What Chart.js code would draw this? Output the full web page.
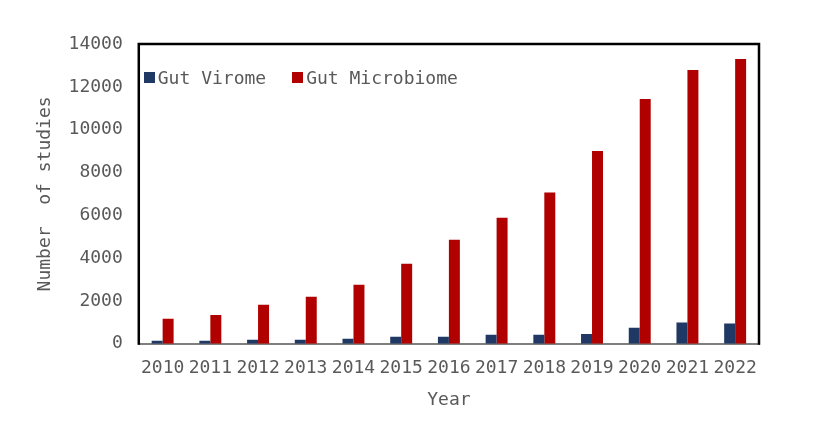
<!DOCTYPE html>
<html>
<head>
<meta charset="utf-8">
<script src="https://cdn.jsdelivr.net/npm/chart.js@4"></script>
<style>
  body { margin: 0; background: #fff; }
  #wrap { position: relative; width: 819px; height: 434px; }
  #chart { display: block; }
  #legend {
    position: absolute; display: flex; gap: 26px;
    font-family: 'DejaVu Sans Mono', 'Liberation Mono', monospace;
    font-size: 18px; color: #595959; white-space: nowrap;
  }
  #legend span.item { display: flex; align-items: center; }
  #legend span.box { display: inline-block; width: 11px; height: 11px; margin-right: 3px; }
</style>
</head>
<body>
<div id="wrap">
  <canvas id="chart" width="819" height="434"></canvas>
  <div id="legend"></div>
</div>
<script>
const years = ['2010', '2011', '2012', '2013', '2014', '2015', '2016', '2017', '2018', '2019', '2020', '2021', '2022'];
const gutVirome = [140, 140, 190, 190, 230, 330, 330, 420, 420, 460, 750, 1000, 950];
const gutMicrobiome = [1170, 1350, 1820, 2200, 2760, 3740, 4860, 5890, 7060, 9000, 11430, 12790, 13300];
const yTicks = [0, 2000, 4000, 6000, 8000, 10000, 12000, 14000];

const textColor = '#595959';
const monoFont = "'DejaVu Sans Mono', 'Liberation Mono', monospace";

// black frame on top / left / right, grey baseline
const frame = {
    id: 'frame',
    afterDraw(chart) {
        const a = chart.chartArea;
        const ctx = chart.ctx;
        ctx.save();
        ctx.strokeStyle = '#000';
        ctx.lineWidth = 2.5;
        ctx.beginPath();
        ctx.moveTo(a.left, a.bottom + 1);
        ctx.lineTo(a.left, a.top);
        ctx.lineTo(a.right, a.top);
        ctx.lineTo(a.right, a.bottom + 1);
        ctx.stroke();
        ctx.restore();
    }
};

// legend sits inside the plot, top-left
const htmlLegend = {
    id: 'htmlLegend',
    afterUpdate(chart) {
        const el = document.getElementById('legend');
        el.innerHTML = '';
        chart.data.datasets.forEach(ds => {
            const item = document.createElement('span');
            item.className = 'item';
            const box = document.createElement('span');
            box.className = 'box';
            box.style.background = ds.backgroundColor;
            item.appendChild(box);
            item.appendChild(document.createTextNode(ds.label));
            el.appendChild(item);
        });
        el.style.left = (chart.chartArea.left + 5) + 'px';
        el.style.top = (chart.chartArea.top + 23) + 'px';
    }
};

new Chart(document.getElementById('chart'), {
    type: 'bar',
    data: {
        labels: years,
        datasets: [{
            label: 'Gut Virome',
            data: gutVirome,
            backgroundColor: '#1F3864'
        }, {
            label: 'Gut Microbiome',
            data: gutMicrobiome,
            backgroundColor: '#B00000'
        }]
    },
    options: {
        responsive: false,
        animation: false,
        layout: { padding: { left: 31, right: 60, top: 44, bottom: 19 } },
        categoryPercentage: 0.46,
        barPercentage: 1.0,
        plugins: {
            tooltip: { enabled: false },
            legend: { display: false }
        },
        scales: {
            x: {
                grid: { display: false },
                border: { display: true, color: '#7f7f7f', width: 2 },
                ticks: {
                    color: textColor,
                    font: { family: monoFont, size: 18 },
                    maxRotation: 0,
                    autoSkip: false,
                    padding: 6
                },
                title: {
                    display: true,
                    text: 'Year',
                    color: textColor,
                    font: { family: monoFont, size: 18 },
                    padding: { top: 4 }
                }
            },
            y: {
                min: 0,
                max: 14000,
                afterBuildTicks(axis) {
                    axis.ticks = yTicks.map(v => ({ value: v }));
                },
                grid: { display: false },
                border: { display: false },
                ticks: {
                    color: textColor,
                    font: { family: monoFont, size: 18 },
                    padding: 8,
                    callback: v => String(v)
                },
                title: {
                    display: true,
                    text: 'Number  of studies',
                    color: textColor,
                    font: { family: monoFont, size: 18 },
                    padding: { bottom: 4 }
                }
            }
        }
    },
    plugins: [frame, htmlLegend]
});
</script>
</body>
</html>
